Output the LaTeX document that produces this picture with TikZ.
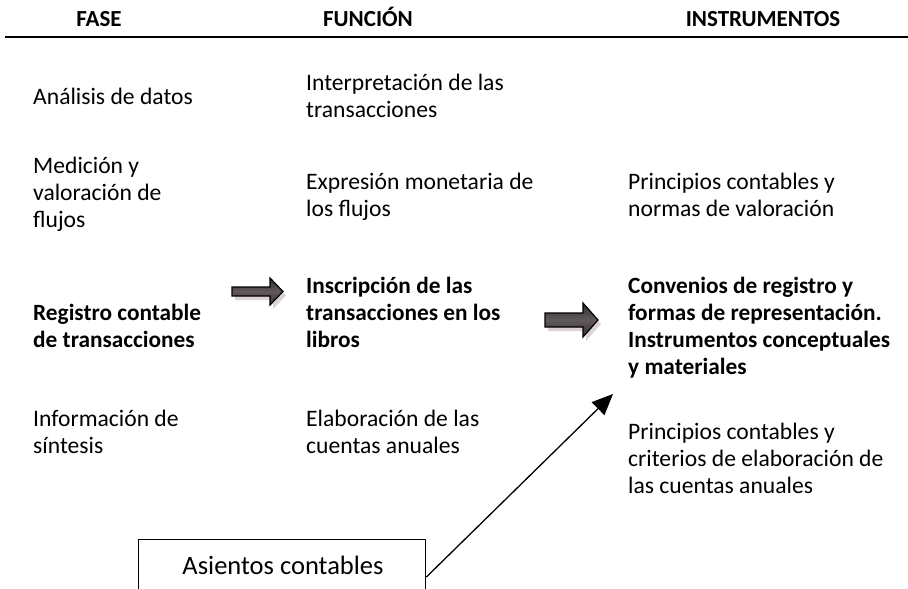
\documentclass[tikz,border=0pt]{standalone}
\usepackage{fontspec}
\setmainfont{Carlito}
\usetikzlibrary{arrows.meta,shadows,calc}
\definecolor{arrowdark}{RGB}{48,44,44}
\definecolor{arrowmid}{RGB}{98,90,90}
\definecolor{shadowc}{RGB}{120,80,80}
\begin{document}
\begin{tikzpicture}[x=1pt,y=-1pt,
  txt/.style={anchor=north west,inner sep=0pt,align=left,font=\fontsize{23.6}{27}\selectfont},
  btxt/.style={txt,font=\fontsize{23.3}{27}\selectfont\bfseries},
  hdr/.style={anchor=base,inner sep=0pt,font=\fontsize{23}{28}\selectfont\bfseries},
  blockarrow/.style={draw=black,line width=1.2pt,top color=arrowdark,bottom color=arrowdark,middle color=arrowmid,
    drop shadow={shadow xshift=3pt,shadow yshift=-4pt,opacity=0.25,fill=shadowc}},
  link/.style={line width=1.3pt,-{Triangle[length=21pt,width=18pt]}}]
\useasboundingbox (0,0) rectangle (908,589);
\clip (0,0) rectangle (908,589);
% headers
\node[hdr] (hfase) at (99,27) {FASE};
\node[hdr] (hfun) at (368,27) {FUNCIÓN};
\node[hdr] (hins) at (763,27) {INSTRUMENTOS};
\draw[line width=2.6pt] (5,37) -- (908,37);
% column 1
\node[txt] (a1) at (33,104-18.9) {\strut Análisis de datos};
\node[txt] (a2) at (33,173-18.9) {\strut Medición y\\valoración de\\flujos};
\node[btxt] (a3) at (33,320-18.9) {\strut Registro contable\\de transacciones};
\node[txt] (a4) at (33,426-18.9) {\strut Información de\\síntesis};
% column 2
\node[txt] (b1) at (306,90-18.9) {\strut Interpretación de las\\transacciones};
\node[txt] (b2) at (306,189-18.9) {\strut Expresión monetaria de\\los flujos};
\node[btxt] (b3) at (306,293-18.9) {\strut Inscripción de las\\transacciones en los\\libros};
\node[txt] (b4) at (306,426-18.9) {\strut Elaboración de las\\cuentas anuales};
% column 3
\node[txt] (c2) at (628,189-18.9) {\strut Principios contables y\\normas de valoración};
\node[btxt] (c3) at (628,293-18.9) {\strut Convenios de registro y\\formas de representación.\\Instrumentos conceptuales\\y materiales};
\node[txt] (c4) at (628,439-18.9) {\strut Principios contables y\\criterios de elaboración de\\las cuentas anuales};
% block arrows
\draw[blockarrow] (232,287) -- (270,287) -- (270,278) -- (283,291.5) -- (270,305) -- (270,296) -- (232,296) -- cycle;
\draw[blockarrow] (545,313) -- (583,313) -- (583,303) -- (598,320) -- (583,337) -- (583,327) -- (545,327) -- cycle;
% box
\node[draw,line width=1.4pt,anchor=north west,minimum width=287pt,minimum height=90pt,inner sep=0pt] (box) at (138,539) {};
\node[anchor=base,inner sep=0pt,font=\fontsize{26.5}{31}\selectfont] (boxt) at (283,574) {Asientos contables};
\coordinate (tip) at (613,394);
\draw[link] ([yshift=-38pt]box.north east) -- (tip);
\end{tikzpicture}
\end{document}
